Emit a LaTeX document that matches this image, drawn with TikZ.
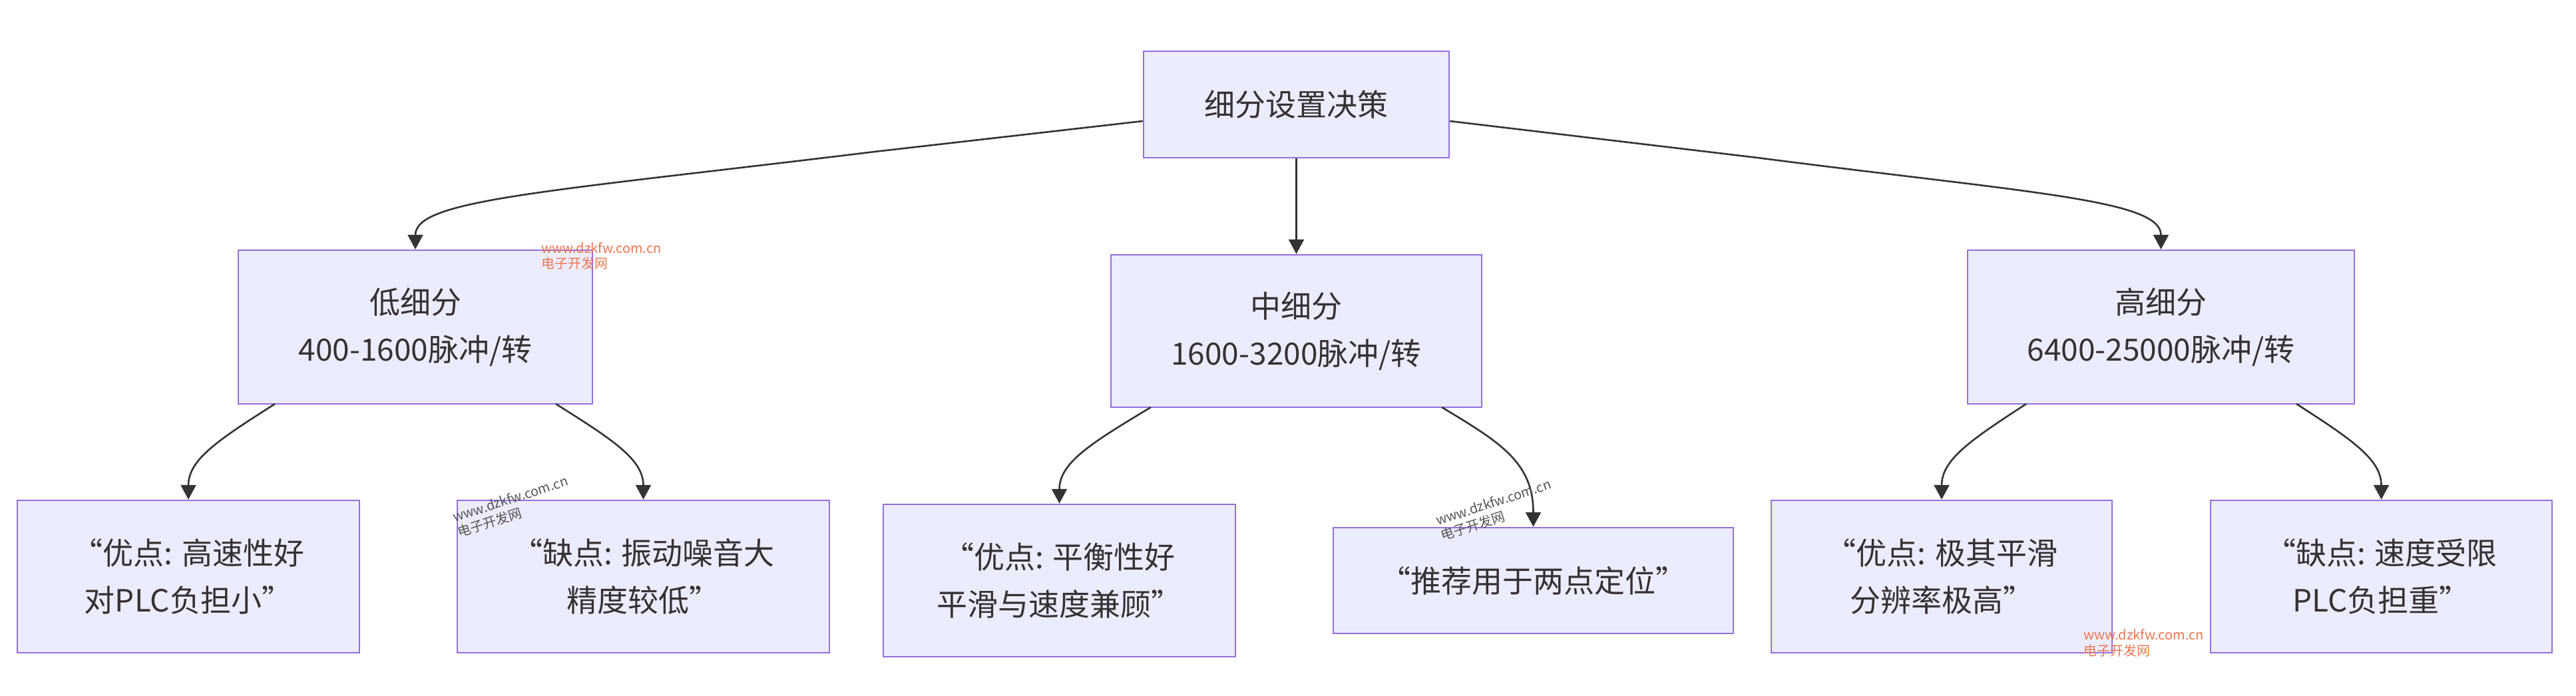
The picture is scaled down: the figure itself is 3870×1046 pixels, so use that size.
\documentclass[tikz,border=0pt]{standalone}
\usepackage{fontspec}
\setmainfont{Noto Sans CJK SC}
\usetikzlibrary{arrows.meta,calc}
\definecolor{nodefill}{HTML}{ECECFF}
\definecolor{nodeborder}{HTML}{9370DB}
\definecolor{ink}{HTML}{333333}
\definecolor{wmark}{HTML}{EC7650}
\definecolor{wgrey}{HTML}{555555}
\begin{document}
\begin{tikzpicture}[x=1pt,y=-1pt,
  box/.style={draw=nodeborder,fill=nodefill,line width=2.5pt,text=ink,align=center,inner sep=0pt,font=\fontsize{46}{71}\selectfont},
  edge/.style={draw=ink,line width=2.6pt,-{Triangle[length=22pt,width=23pt]}},
  wm/.style={text=wmark,font=\fontsize{20}{24}\selectfont,inner sep=0pt,anchor=base west}]
\useasboundingbox[fill=white] (0,0) rectangle (3870,1046);
% nodes
\node[box,minimum width=459pt,minimum height=160pt] (root) at (1947.5,157) {细分设置决策};
\node[box,minimum width=532pt,minimum height=231pt] (low) at (624,491.5) {低细分\\400-1600脉冲/转};
\node[box,minimum width=557pt,minimum height=229pt] (mid) at (1947.5,497.5) {中细分\\1600-3200脉冲/转};
\node[box,minimum width=581pt,minimum height=231pt] (high) at (3246.5,491.5) {高细分\\6400-25000脉冲/转};
\node[box,minimum width=514pt,minimum height=229pt] (leaf1) at (283,866.5) {“优点: 高速性好\\对PLC负担小”};
\node[box,minimum width=559pt,minimum height=229pt] (leaf2) at (966.5,866.5) {“缺点: 振动噪音大\\精度较低”};
\node[box,minimum width=529pt,minimum height=229pt] (leaf3) at (1591.5,872.5) {“优点: 平衡性好\\平滑与速度兼顾”};
\node[box,minimum width=601pt,minimum height=159pt] (leaf4) at (2303.5,872.5) {“推荐用于两点定位”};
\node[box,minimum width=512pt,minimum height=229pt] (leaf5) at (2917,866.5) {“优点: 极其平滑\\分辨率极高”};
\node[box,minimum width=513pt,minimum height=229pt] (leaf6) at (3577.5,866.5) {“缺点: 速度受限\\PLC负担重”};
% connector points
\coordinate (rootL) at ($(root.west)+(0,25)$);
\coordinate (rootR) at ($(root.east)+(0,25)$);
\coordinate (b1) at (1314,228);
\coordinate (b2) at (2640,237);
\coordinate (lowL) at (413,607);
\coordinate (lowR) at (835,607);
\coordinate (midL) at (1729,612);
\coordinate (midR) at (2166,612);
\coordinate (highL) at (3044,607);
\coordinate (highR) at (3450,607);
% connectors
\draw[edge] (rootL) -- (b1) .. controls (814,289) and (624,300) .. (low.north);
\draw[edge] (root.south) -- (mid.north);
\draw[edge] (rootR) -- (b2) .. controls (3050,290) and (3246.5,300) .. (high.north);
\draw[edge] (lowL) .. controls (330,660) and (283,690) .. (leaf1.north);
\draw[edge] (lowR) .. controls (919,660) and (966.5,690) .. (leaf2.north);
\draw[edge] (midL) .. controls (1641,665) and (1591.5,695) .. (leaf3.north);
\draw[edge] (midR) .. controls (2254,665) and (2303.5,695) .. (leaf4.north);
\draw[edge] (highL) .. controls (2963,660) and (2917,690) .. (leaf5.north);
\draw[edge] (highR) .. controls (3532,660) and (3577.5,690) .. (leaf6.north);
% watermarks
\node[wm] (w1a) at (813,380) {www.dzkfw.com.cn};
\node[wm] (w1b) at (813,403) {电子开发网};
\node[wm,rotate=18,text=wgrey] (w2a) at (683,785) {www.dzkfw.com.cn};
\node[wm,rotate=18,text=wgrey] (w2b) at (690,808) {电子开发网};
\node[wm,rotate=18,text=wgrey] (w3a) at (2160,790) {www.dzkfw.com.cn};
\node[wm,rotate=18,text=wgrey] (w3b) at (2167,813) {电子开发网};
\node[wm] (w4a) at (3130,961) {www.dzkfw.com.cn};
\node[wm] (w4b) at (3130,985) {电子开发网};
\end{tikzpicture}
\end{document}
